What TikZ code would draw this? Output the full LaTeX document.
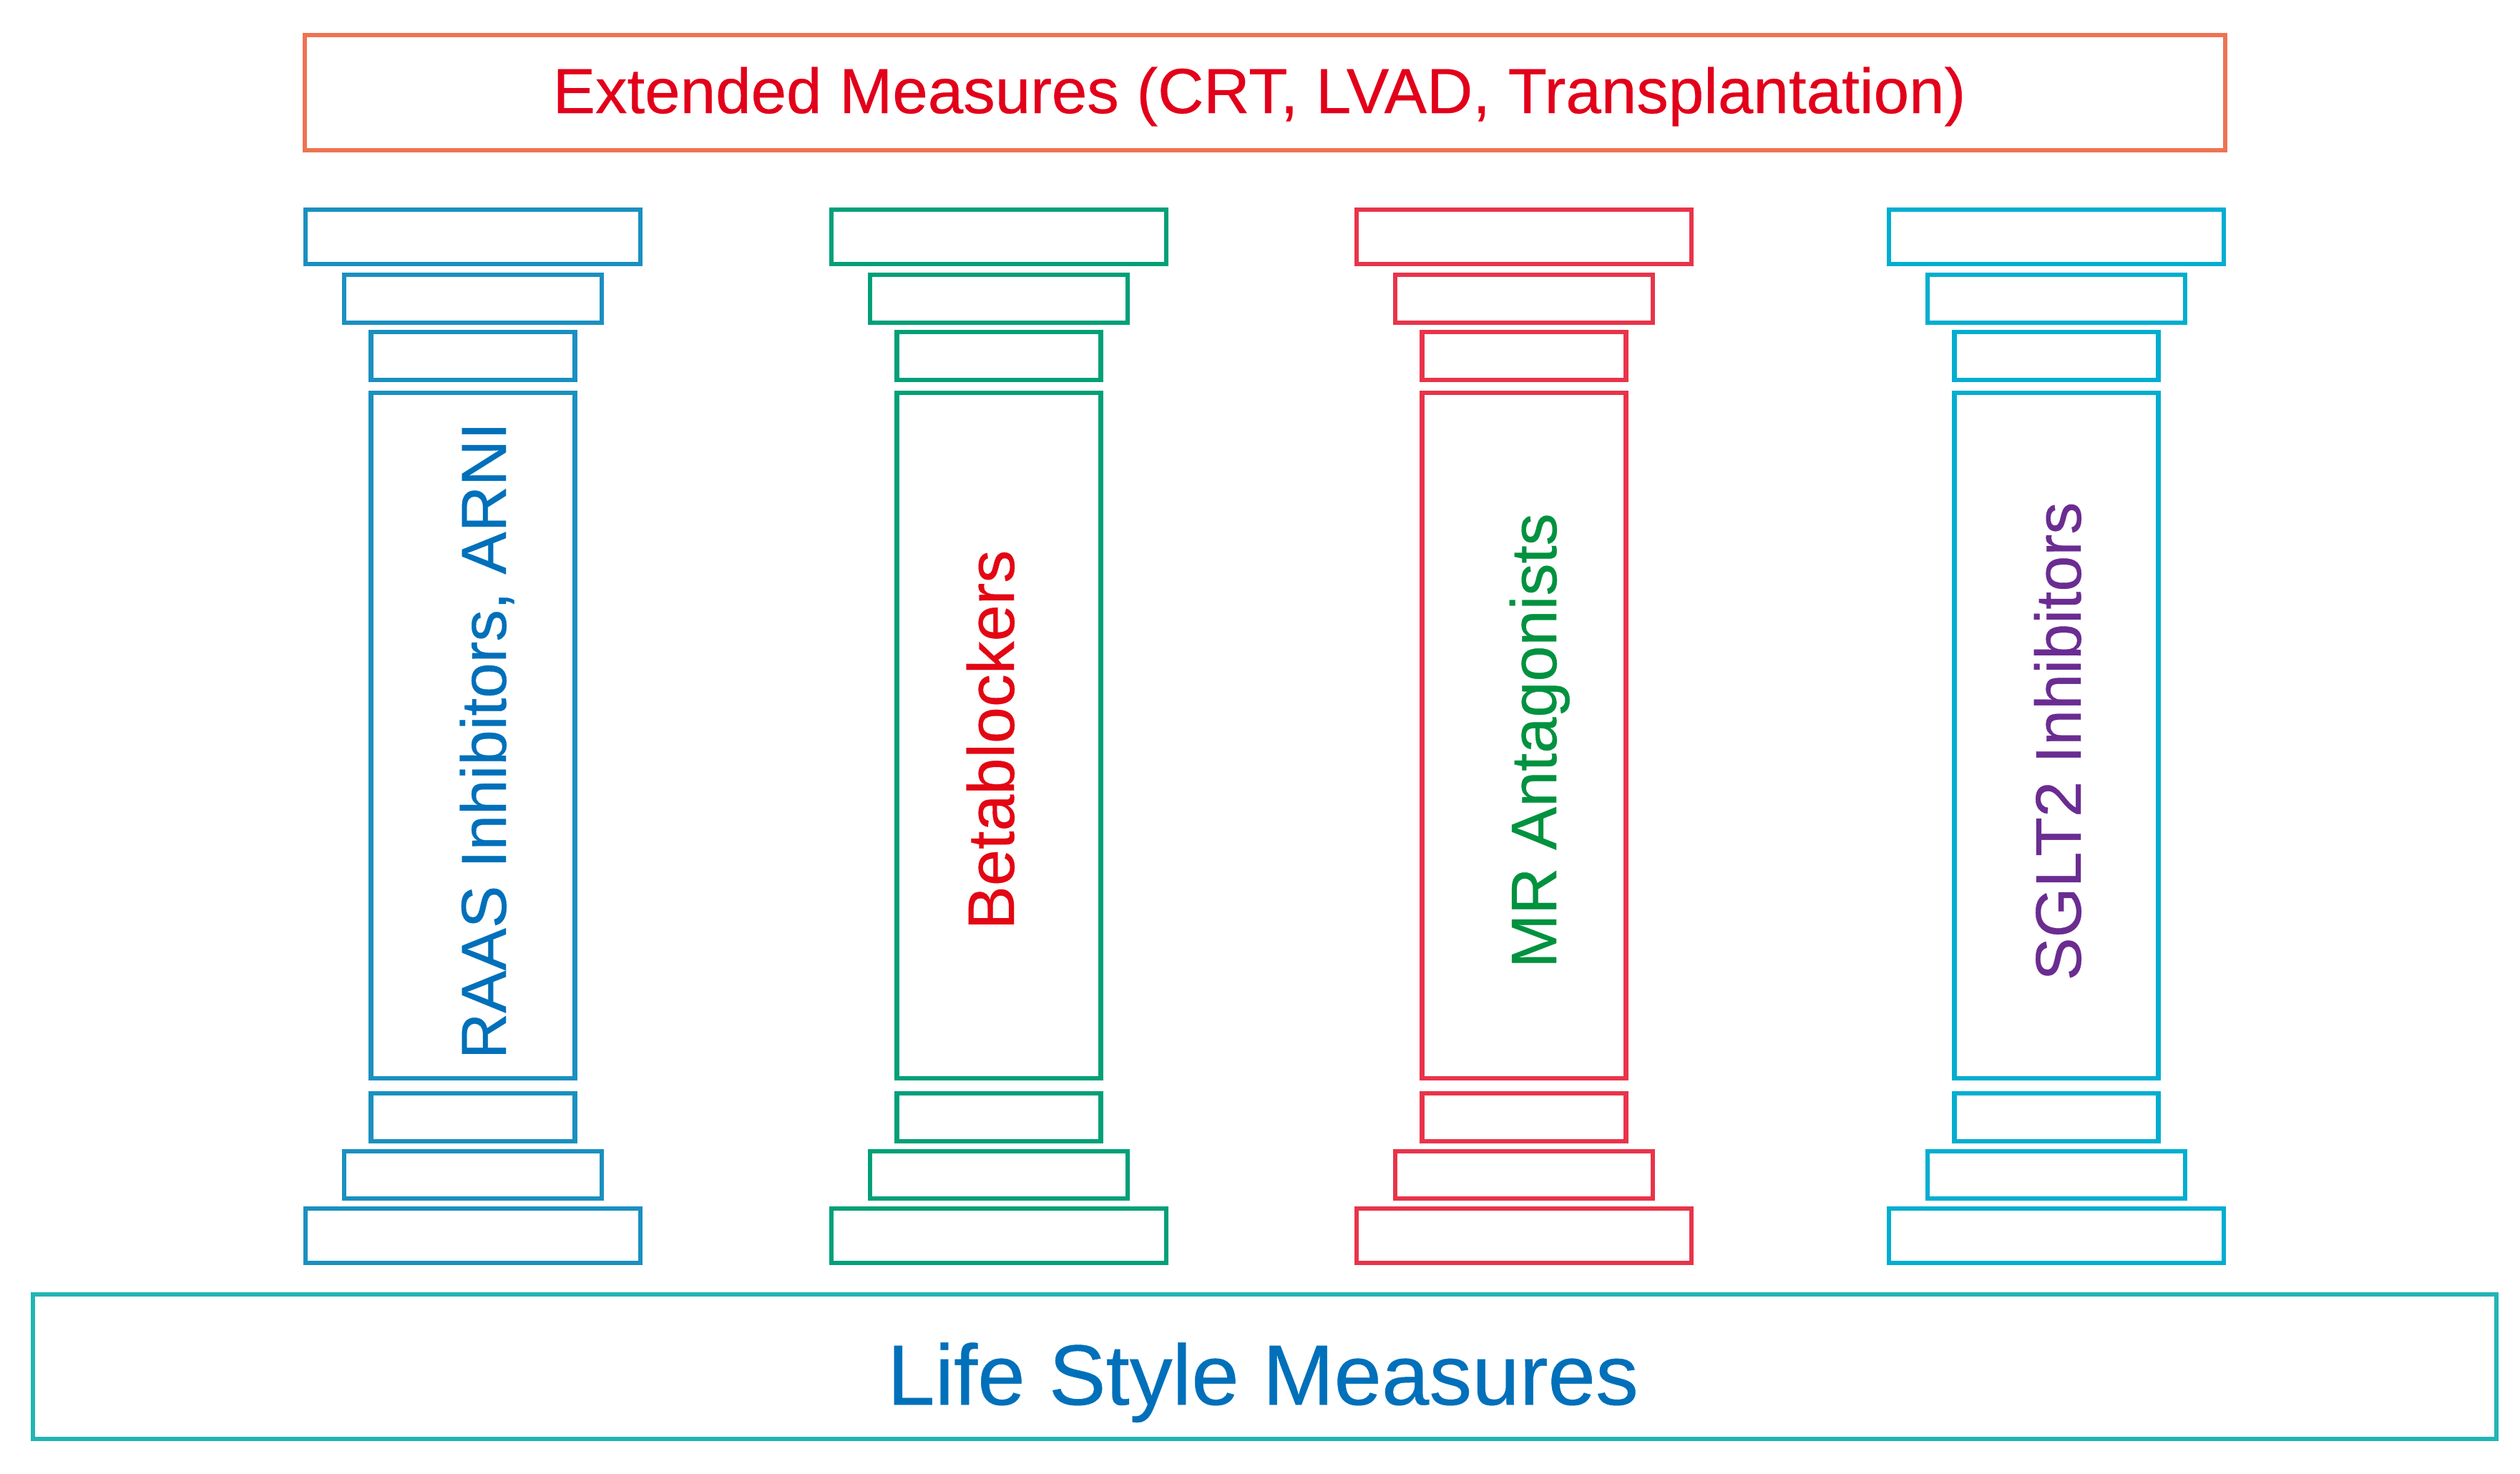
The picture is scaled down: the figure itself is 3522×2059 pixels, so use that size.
\documentclass[tikz,border=0pt]{standalone}
\usepackage{fontspec}
\setmainfont{Liberation Sans}[FakeBold=0.4]
\definecolor{topbox}{HTML}{EE7352}
\definecolor{toptext}{HTML}{E2001A}
\definecolor{bluep}{HTML}{1A90C0}
\definecolor{greenp}{HTML}{00A078}
\definecolor{redp}{HTML}{E8344A}
\definecolor{cyanp}{HTML}{00AED0}
\definecolor{basebox}{HTML}{22B5B5}
\definecolor{bluetext}{HTML}{0070BA}
\definecolor{redtext}{HTML}{E30613}
\definecolor{greentext}{HTML}{00923F}
\definecolor{purpletext}{HTML}{6B2C91}
\tikzset{
  frame/.style={draw, line width=1.8pt, inner sep=0pt, outer sep=0pt, fill=none},
  pillartext/.style={rotate=90, anchor=base, inner sep=0pt},
  bigtext/.style={anchor=base, inner sep=0pt},
}
\begin{document}
\begin{tikzpicture}[x=0.01cm,y=-0.01cm]
\useasboundingbox[fill=white] (0,0) rectangle (3522,2059);
% top and bottom boxes
\node[frame, draw=topbox, minimum width=26.82cm, minimum height=1.61cm] (extbox) at (1768,129.5) {};
\node[bigtext, text=toptext, font=\fontsize{25.3pt}{30pt}\selectfont] (exttext) at (1760,158) {Extended Measures (CRT, LVAD, Transplantation)};
\node[frame, draw=basebox, minimum width=34.41cm, minimum height=2.02cm] (lifebox) at (1767.5,1910) {};
\node[bigtext, text=bluetext, font=\fontsize{34pt}{40pt}\selectfont] (lifetext) at (1765,1963) {Life Style Measures};
% pillars
\foreach \cx/\col/\nm in {661/bluep/p1, 1396/greenp/p2, 2130/redp/p3, 2874/cyanp/p4}{
  \node[frame, draw=\col, minimum width=4.68cm, minimum height=0.76cm] (\nm captop) at (\cx,331) {};
  \node[frame, draw=\col, minimum width=3.60cm, minimum height=0.67cm] (\nm capmid) at (\cx,417.5) {};
  \node[frame, draw=\col, minimum width=2.85cm, minimum height=0.67cm] (\nm caplow) at (\cx,497.5) {};
  \node[frame, draw=\col, minimum width=2.85cm, minimum height=9.58cm] (\nm shaft) at (\cx,1028) {};
  \node[frame, draw=\col, minimum width=2.85cm, minimum height=0.67cm] (\nm baseup) at (\cx,1561.5) {};
  \node[frame, draw=\col, minimum width=3.60cm, minimum height=0.66cm] (\nm basemid) at (\cx,1642) {};
  \node[frame, draw=\col, minimum width=4.68cm, minimum height=0.76cm] (\nm baselow) at (\cx,1727) {};
}
\node[pillartext, text=bluetext, font=\fontsize{25.3pt}{30pt}\selectfont] (t1) at (707,1035) {RAAS Inhibitors, ARNI};
\node[pillartext, text=redtext, font=\fontsize{26.1pt}{30pt}\selectfont] (t2) at (1417,1034) {Betablockers};
\node[pillartext, text=greentext, font=\fontsize{25.6pt}{30pt}\selectfont] (t3) at (2175,1035) {MR Antagonists};
\node[pillartext, text=purpletext, font=\fontsize{25.6pt}{30pt}\selectfont] (t4) at (2908,1036) {SGLT2 Inhibitors};
\end{tikzpicture}
\end{document}
